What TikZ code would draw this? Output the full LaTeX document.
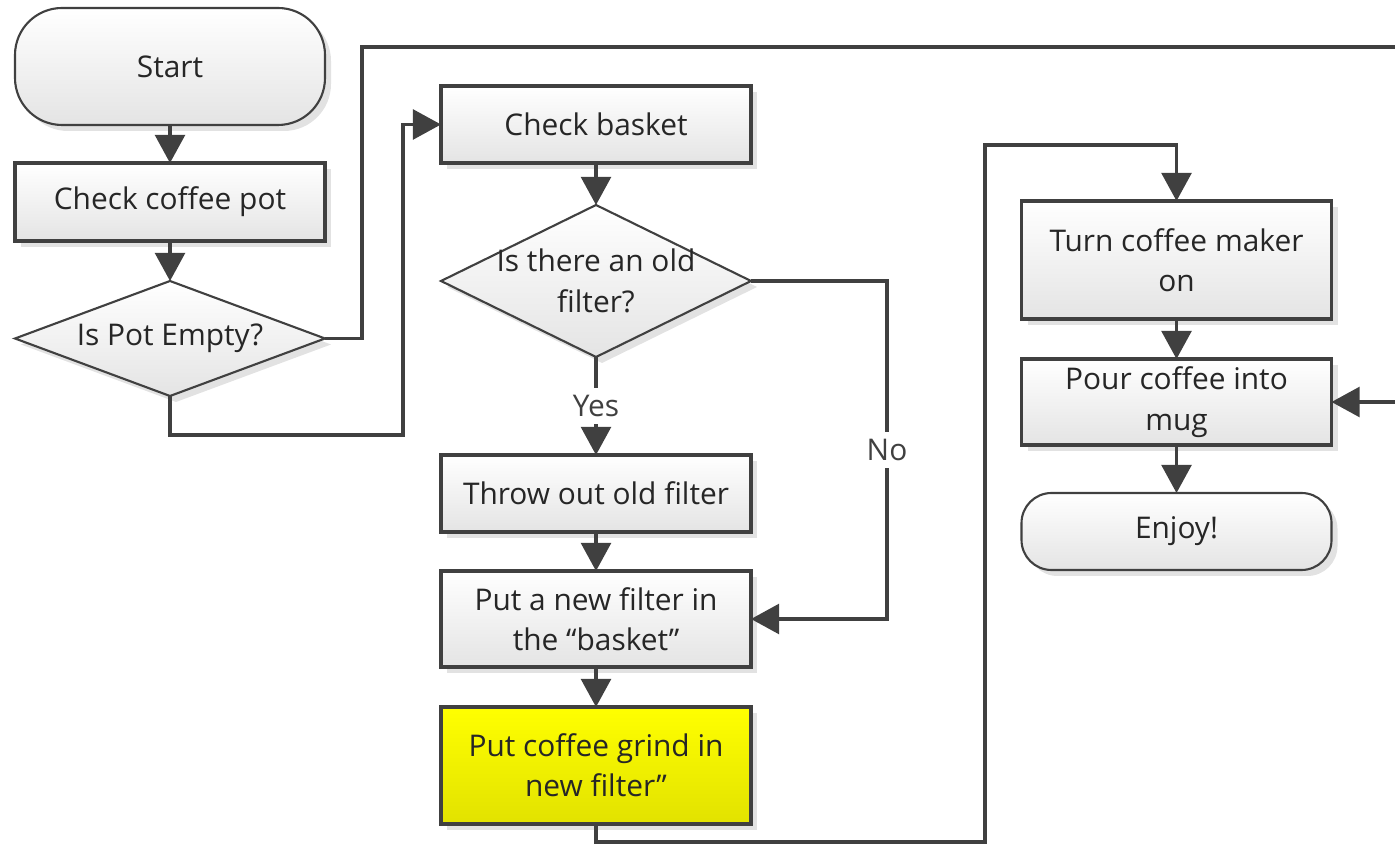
\documentclass[tikz,border=0pt]{standalone}
\usepackage{fontspec}
\setmainfont{Open Sans}
\usepackage{tikz}
\usetikzlibrary{arrows.meta,shapes,positioning,shadows}
\usepackage{xcolor}
\definecolor{flline}{RGB}{64,64,64}
\definecolor{fltext}{RGB}{38,38,38}
\definecolor{flgrey}{RGB}{228,228,228}
\definecolor{flshadow}{RGB}{226,226,226}
\definecolor{flyellow}{RGB}{255,255,0}
\definecolor{flyellowdark}{RGB}{226,226,0}
\tikzstyle{arrow} = [line width=0.9pt,-{Triangle[length=8pt,width=8.5pt]},color=flline]
\tikzstyle{flshade} = [top color=white, bottom color=flgrey, outer sep=0pt, drop shadow={shadow xshift=0.06cm, shadow yshift=-0.06cm, fill=flshadow, opacity=1}]
\tikzstyle{stepnode} = [rectangle, minimum width=3.1cm, inner ysep=2pt, text centered, align=center, draw=flline, line width=0.9pt, flshade]
\tikzstyle{termnode} = [rectangle, minimum width=3.1cm, text centered, draw=flline, line width=0.6pt, flshade]
\tikzstyle{decisionnode} = [diamond, aspect=2.5, inner sep=0pt, minimum width=3.1cm, text centered, draw=flline, line width=0.6pt, flshade]

\begin{document}
\begin{tikzpicture}[font=\fontsize{8.5}{11.5}\selectfont, text=fltext]
\useasboundingbox (0,0) rectangle (13.95,-8.44);

% left column
\node[termnode, minimum height=1.17cm, rounded corners=0.47cm] (start) at (1.70,-0.665) {Start};
\node[stepnode, minimum height=0.78cm, below=0.38cm of start] (chkpot) {Check coffee pot};
\node[decisionnode, minimum height=1.15cm, below=0.40cm of chkpot] (potq) {Is Pot Empty?};

% middle column
\node[stepnode, minimum height=0.77cm] (basket) at (5.96,-1.245) {Check basket};
\node[decisionnode, minimum height=1.52cm, below=0.42cm of basket, label={[align=center, text=fltext]center:Is there an old\\filter?}] (filterq) {};
\node[stepnode, minimum height=0.77cm, below=0.98cm of filterq] (throw) {Throw out old filter};
\node[stepnode, minimum height=0.96cm, below=0.39cm of throw] (newfilter) {Put a new filter in\\the “basket”};
\node[stepnode, minimum height=1.17cm, below=0.40cm of newfilter, top color=flyellow, bottom color=flyellowdark] (grind) {Put coffee grind in\\new filter”};

% right column
\node[stepnode, minimum height=1.18cm] (turnon) at (11.765,-2.60) {Turn coffee maker\\on};
\node[stepnode, minimum height=0.86cm, below=0.40cm of turnon] (pour) {Pour coffee into\\mug};
\node[termnode, minimum height=0.77cm, rounded corners=0.3cm, below=0.48cm of pour] (enjoy) {Enjoy!};

\coordinate (loopR) at (14.10,-0.47);

\draw[arrow] (start) -- (chkpot);
\draw[arrow] (chkpot) -- (potq);
\draw[arrow] (potq.east) -- ++(0.37,0) |- (loopR) |- (pour.east);
\draw[arrow] (potq.south) -- ++(0,-0.39) -| ([xshift=-0.38cm]basket.west) -- (basket.west);

\draw[arrow] (basket) -- (filterq);
\draw[arrow] (filterq) -- node[fill=white, inner sep=2pt] {Yes} (throw);
\draw[arrow] (filterq.east) -- ++(1.36,0) |- node[pos=0.25, fill=white, inner sep=2pt] {No} (newfilter.east);
\draw[arrow] (throw) -- (newfilter);
\draw[arrow] (newfilter) -- (grind);
\draw[arrow] (grind.south) -- ++(0,-0.18) -| ++(3.89,6.97) -| (turnon.north);

\draw[arrow] (turnon) -- (pour);
\draw[arrow] (pour) -- (enjoy);
\end{tikzpicture}
\end{document}
